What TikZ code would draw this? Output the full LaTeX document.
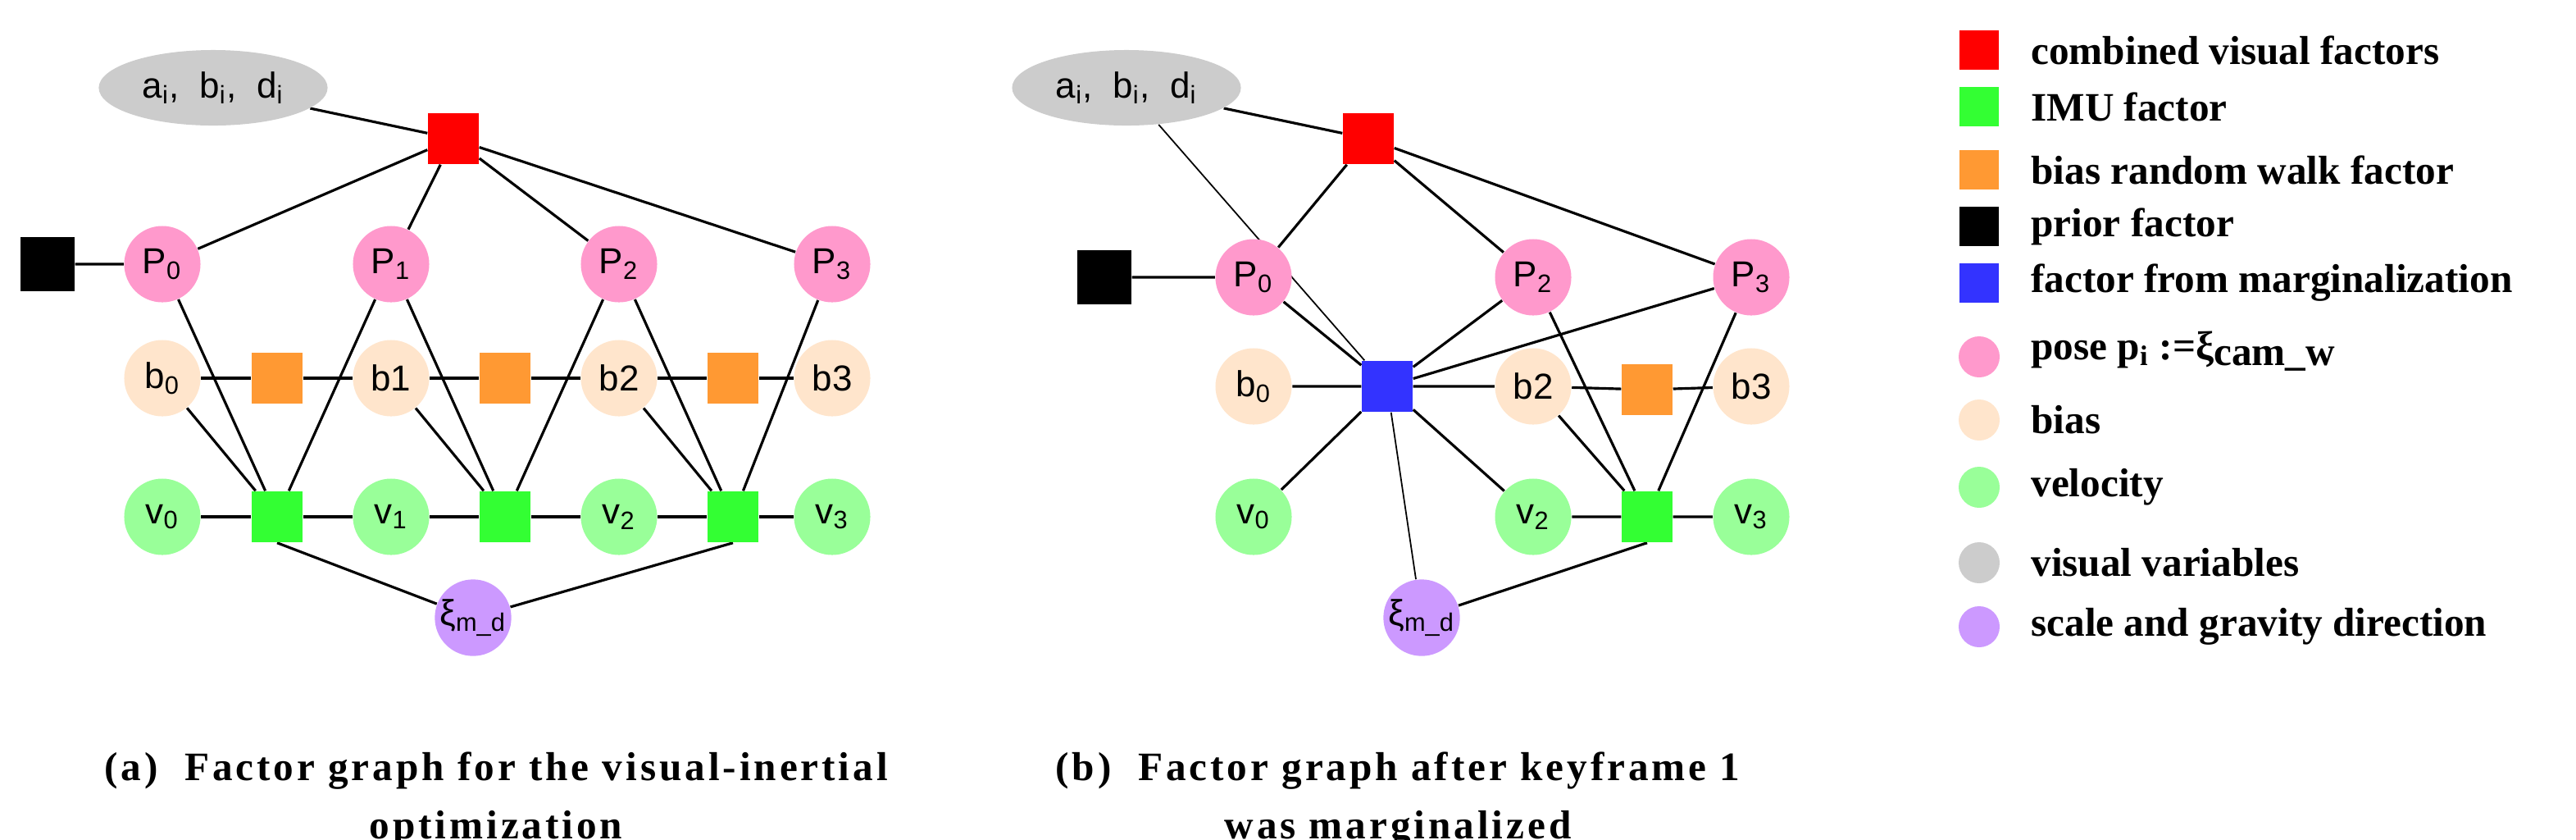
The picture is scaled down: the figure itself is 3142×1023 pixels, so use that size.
\documentclass[tikz,border=0pt]{standalone}
\usepackage{fontspec}
\setmainfont{Liberation Serif}
\newfontfamily\nodefont{Liberation Sans}
\usetikzlibrary{backgrounds,shapes.geometric}
\definecolor{cpose}{HTML}{FF99CC}
\definecolor{cbias}{HTML}{FFE5CC}
\definecolor{cvel}{HTML}{99FF99}
\definecolor{cimu}{HTML}{33FF33}
\definecolor{cbrw}{HTML}{FF9933}
\definecolor{cmarg}{HTML}{3333FF}
\definecolor{cvis}{HTML}{CCCCCC}
\definecolor{cscale}{HTML}{CC99FF}
\begin{document}
\begin{tikzpicture}[x=0.01cm,y=-0.01cm,
  var/.style={circle,draw=none,minimum size=0.93cm,inner sep=0pt,font=\nodefont\fontsize{12.5}{14}\selectfont},
  fac/.style={rectangle,draw=none,minimum size=0.62cm,inner sep=0pt},
  pose/.style={var,fill=cpose}, bias/.style={var,fill=cbias}, vel/.style={var,fill=cvel},
  scl/.style={var,fill=cscale},
  vis/.style={ellipse,fill=cvis,minimum width=2.79cm,minimum height=0.92cm,inner sep=0pt,font=\nodefont\fontsize{12.5}{14}\selectfont},
  redf/.style={fac,fill=red}, imu/.style={fac,fill=cimu}, brw/.style={fac,fill=cbrw},
  prior/.style={fac,fill=black,minimum size=0.66cm}, marg/.style={fac,fill=cmarg},
  e/.style={line width=0.9pt}, et/.style={line width=0.5pt},
  lsq/.style={rectangle,minimum width=0.48cm,minimum height=0.48cm,inner sep=0pt},
  lci/.style={circle,minimum size=0.5cm,inner sep=0pt},
  lt/.style={anchor=west,font=\bfseries\fontsize{14}{16}\selectfont},
  captxt/.style={align=center,font=\bfseries\fontsize{14}{20}\selectfont\addfontfeature{LetterSpace=8}}]
\useasboundingbox (0,0) rectangle (3142,1023);
% ---------- (a)
\node[vis] (A) at (260,107) {a\textsubscript{i},\ \ b\textsubscript{i},\ \ d\textsubscript{i}};
\node[redf] (R) at (553,169) {};
\node[prior] (K) at (58,322) {};
\node[pose] (P0) at (198,322) {P\textsubscript{0}};
\node[pose] (P1) at (477,322) {P\textsubscript{1}};
\node[pose] (P2) at (755,322) {P\textsubscript{2}};
\node[pose] (P3) at (1015,322) {P\textsubscript{3}};
\node[bias] (B0) at (198,461) {b\textsubscript{0}};
\node[bias] (B1) at (477,461) {b1};
\node[bias] (B2) at (755,461) {b2};
\node[bias] (B3) at (1015,461) {b3};
\node[brw] (O1) at (338,461) {};
\node[brw] (O2) at (616,461) {};
\node[brw] (O3) at (894,461) {};
\node[vel] (V0) at (198,630) {v\textsubscript{0}};
\node[vel] (V1) at (477,630) {v\textsubscript{1}};
\node[vel] (V2) at (755,630) {v\textsubscript{2}};
\node[vel] (V3) at (1015,630) {v\textsubscript{3}};
\node[imu] (G1) at (338,630) {};
\node[imu] (G2) at (616,630) {};
\node[imu] (G3) at (894,630) {};
\node[scl] (X) at (577,753) {ξ\textsubscript{m\_d}};
\begin{scope}[on background layer]
\draw[e] (A)--(R) (R)--(P0) (R)--(P1) (R)--(P2) (R)--(P3) (K)--(P0);
\draw[e] (P0)--(G1) (P1)--(G1) (B0)--(G1) (P1)--(G2) (B1)--(G2) (P2)--(G2) (P2)--(G3) (B2)--(G3) (P3)--(G3);
\draw[e] (B0)--(O1)--(B1)--(O2)--(B2)--(O3)--(B3);
\draw[e] (V0)--(G1)--(V1)--(G2)--(V2)--(G3)--(V3);
\draw[e] (G1.south)--(X) (G3.south)--(X);
\end{scope}
% ---------- (b)
\node[vis] (bA) at (1374,107) {a\textsubscript{i},\ \ b\textsubscript{i},\ \ d\textsubscript{i}};
\node[redf] (bR) at (1669,169) {};
\node[prior] (bK) at (1347,338) {};
\node[pose] (bP0) at (1529,338) {P\textsubscript{0}};
\node[pose] (bP2) at (1870,338) {P\textsubscript{2}};
\node[pose] (bP3) at (2136,338) {P\textsubscript{3}};
\node[bias] (bB0) at (1529,471) {b\textsubscript{0}};
\node[marg] (M) at (1692,471) {};
\node[bias] (bB2) at (1870,471) {b2};
\node[brw] (bO) at (2009,475) {};
\node[bias] (bB3) at (2136,471) {b3};
\node[vel] (bV0) at (1529,630) {v\textsubscript{0}};
\node[vel] (bV2) at (1870,630) {v\textsubscript{2}};
\node[imu] (bG) at (2009,630) {};
\node[vel] (bV3) at (2136,630) {v\textsubscript{3}};
\node[scl] (bX) at (1734,753) {ξ\textsubscript{m\_d}};
\begin{scope}[on background layer]
\draw[e] (bA)--(bR) (bR)--(bP0) (bR)--(bP2) (bR)--(bP3) (bK)--(bP0);
\draw[et] (bA)--(M) (M)--(bX);
\draw[e] (bP0)--(M) (bP2)--(M) (bP3)--(M) (bB0)--(M) (M)--(bB2) (M)--(bV0) (M)--(bV2);
\draw[e] (bB2)--(bO)--(bB3);
\draw[e] (bP2)--(bG) (bB2)--(bG) (bP3)--(bG) (bV2)--(bG)--(bV3) (bG.south)--(bX);
\end{scope}
% ---------- legend
\node[lsq,fill=red] (L1) at (2414,61) {};
\node[lt] at (2465,61) {combined visual factors};
\node[lsq,fill=cimu] (L2) at (2414,130) {};
\node[lt] at (2465,130) {IMU factor};
\node[lsq,fill=cbrw] (L3) at (2414,207) {};
\node[lt] at (2465,207) {bias random walk factor};
\node[lsq,fill=black] (L4) at (2414,276) {};
\node[lt] at (2465,276) {prior factor};
\node[lsq,fill=cmarg] (L5) at (2414,345) {};
\node[lt] at (2465,345) {factor from marginalization};
\node[lci,fill=cpose] (L6) at (2414,435) {};
\node[lt] at (2465,428) {pose p\textsubscript{i} :=ξ\textsubscript{\fontsize{14}{16}\selectfont cam\_w}};
\node[lci,fill=cbias] (L7) at (2414,512) {};
\node[lt] at (2465,512) {bias};
\node[lci,fill=cvel] (L8) at (2414,594) {};
\node[lt] at (2465,594) {velocity};
\node[lci,fill=cvis] (L9) at (2414,686) {};
\node[lt] at (2465,686) {visual variables};
\node[lci,fill=cscale] (L10) at (2414,764) {};
\node[lt] at (2465,764) {scale and gravity direction};
% ---------- captions
\node[captxt] (CA) at (605,975) {(a)\ \ Factor graph for the visual-inertial\\optimization};
\node[captxt] (CB) at (1705,975) {(b)\ \ Factor graph after keyframe 1\\was marginalized};
\end{tikzpicture}
\end{document}
